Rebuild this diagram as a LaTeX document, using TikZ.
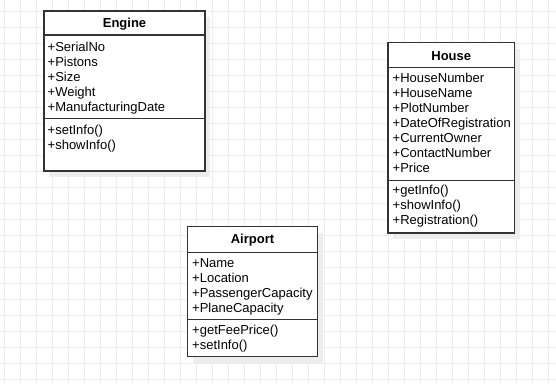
\documentclass[tikz,border=0pt]{standalone}
\usepackage{fontspec}
\setmainfont{Liberation Sans}
\usetikzlibrary{calc}

\begin{document}
\begin{tikzpicture}[x=1pt,y=-1pt,
    gridline/.style={draw=black!7, line width=1pt},
    classbox/.style={draw=black!80, line width=1.1pt},
    boxshadow/.style={fill=black!7},
    classname/.style={font=\fontsize{13}{15}\selectfont\bfseries, anchor=base, inner sep=0pt},
    member/.style={font=\fontsize{13}{15}\selectfont, anchor=base west, inner sep=0pt}]
  % paper and grid
  \useasboundingbox (0,0) rectangle (556,383);
  \fill[white] (0,0) rectangle (556,383);
  \foreach \x in {4,20,...,548} \draw[gridline] (\x,0) -- (\x,383);
  \foreach \y in {11,27,...,379} \draw[gridline] (0,\y) -- (556,\y);

  % class Engine
  \coordinate (E1) at (44,11);      % top left
  \coordinate (E2) at (205,171);    % bottom right
  \fill[boxshadow] ($(E1)+(5,6)$) rectangle ($(E2)+(5,6)$);
  \fill[white] (E1) rectangle (E2);
  \draw[classbox] (44,35) -- (205,35);
  \draw[classbox] (44,118.5) -- (205,118.5);
  \draw[classbox] (E1) rectangle (E2);
  \node[classname] (engine) at (124.5,27.5) {Engine};
  \foreach \m [count=\i] in {SerialNo,Pistons,Size,Weight,ManufacturingDate}
    \node[member] (engine-a\i) at (47.5,{36+15*\i}) {+\m};
  \foreach \m [count=\i] in {setInfo(),showInfo()}
    \node[member] (engine-m\i) at (47.5,{119+15*\i}) {+\m};

  % class House
  \coordinate (H1) at (388,42.5);
  \coordinate (H2) at (514.5,233);
  \fill[boxshadow] ($(H1)+(5,6)$) rectangle ($(H2)+(5,6)$);
  \fill[white] (H1) rectangle (H2);
  \draw[classbox] (388,67.5) -- (514.5,67.5);
  \draw[classbox] (388,180.5) -- (514.5,180.5);
  \draw[classbox] (H1) rectangle (H2);
  \node[classname] (house) at (451.25,60) {House};
  \foreach \m [count=\i] in {HouseNumber,HouseName,PlotNumber,DateOfRegistration,CurrentOwner,ContactNumber,Price}
    \node[member] (house-a\i) at (392.5,{67.5+15*\i}) {+\m};
  \foreach \m [count=\i] in {getInfo(),showInfo(),Registration()}
    \node[member] (house-m\i) at (392.5,{179+15*\i}) {+\m};

  % class Airport
  \coordinate (A1) at (187.5,226.5);
  \coordinate (A2) at (317.5,356.5);
  \fill[boxshadow] ($(A1)+(5,6)$) rectangle ($(A2)+(5,6)$);
  \fill[white] (A1) rectangle (A2);
  \draw[classbox] (187.5,252.5) -- (317.5,252.5);
  \draw[classbox] (187.5,319.5) -- (317.5,319.5);
  \draw[classbox] (A1) rectangle (A2);
  \node[classname] (airport) at (252.5,243.5) {Airport};
  \foreach \m [count=\i] in {Name,Location,PassengerCapacity,PlaneCapacity}
    \node[member] (airport-a\i) at (192,{252+15*\i}) {+\m};
  \foreach \m [count=\i] in {getFeePrice(),setInfo()}
    \node[member] (airport-m\i) at (192,{319+15*\i}) {+\m};
\end{tikzpicture}
\end{document}
